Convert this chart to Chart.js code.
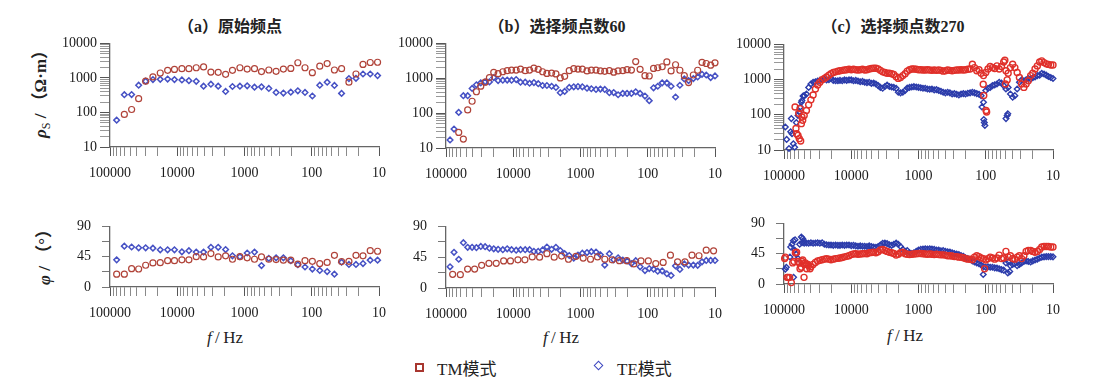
<!DOCTYPE html>
<html><head><meta charset="utf-8">
<script src="https://cdn.jsdelivr.net/npm/chart.js@4.4.1/dist/chart.umd.min.js"></script>
<style>
body{margin:0;background:#fff;width:1093px;height:379px;overflow:hidden;position:relative;font-family:"Liberation Serif","Noto Sans CJK SC",serif;color:#222}
canvas{position:absolute}
.t{position:absolute;white-space:nowrap;transform:translate(-50%,-50%);line-height:1}
.ttl{font-size:16px;font-weight:bold}
.ya{font-size:17px;font-weight:bold;transform:translate(-50%,-50%) rotate(-90deg)}
.xa{font-size:17px}
.lg{position:absolute;font-size:17px;white-space:nowrap;transform:translateY(-50%);line-height:1}
.mk{position:absolute;box-sizing:border-box}
.s{font-family:"Liberation Serif",serif}
.c{font-family:"Noto Sans CJK SC",sans-serif}
</style></head><body>
<div class="t ttl" style="left:230px;top:26px"><span class="c">（</span><span class="s">a</span><span class="c">）原始频点</span></div>
<div class="t ttl" style="left:557px;top:26px"><span class="c">（</span><span class="s">b</span><span class="c">）选择频点数</span><span class="s">60</span></div>
<div class="t ttl" style="left:893px;top:26px"><span class="c">（</span><span class="s">c</span><span class="c">）选择频点数</span><span class="s">270</span></div>
<div class="t ya" style="left:41px;top:90px"><i class="s">ρ</i><sub style="font-size:12px;font-weight:normal" class="s">S</sub><span class="s"> / </span><span class="c">（</span><span class="s">Ω·m</span><span class="c">）</span></div>
<div class="t ya" style="left:43px;top:253px"><i class="s">φ</i><span class="s"> / </span><span class="c">（</span><span class="s">°</span><span class="c">）</span></div>
<div class="t xa s" style="left:225px;top:337px"><i>f</i>&thinsp;/&thinsp;Hz</div>
<div class="t xa s" style="left:561px;top:337px"><i>f</i>&thinsp;/&thinsp;Hz</div>
<div class="t xa s" style="left:905px;top:335px"><i>f</i>&thinsp;/&thinsp;Hz</div>
<div class="mk" style="left:415px;top:363px;width:9px;height:9px;border:2px solid #a8362f"></div>
<div class="lg" style="left:437px;top:368px"><span class="s">TM</span><span class="c">模式</span></div>
<div class="mk" style="left:595px;top:362px;width:7px;height:7px;border:1.5px solid #3c46c0;transform:rotate(45deg)"></div>
<div class="lg" style="left:617px;top:368px"><span class="s">TE</span><span class="c">模式</span></div>

<canvas id="aT"></canvas><canvas id="aB"></canvas>
<canvas id="bT"></canvas><canvas id="bB"></canvas>
<canvas id="cT"></canvas><canvas id="cB"></canvas>
<script>
// ---------- tick labels ----------
const xTickLabels = [100000, 10000, 1000, 100, 10];
const rhoTickLabels = [10, 100, 1000, 10000];
const phiTicks = [0, 22.5, 45, 67.5, 90];
const phiTickLabels = [0, 45, 90];

// ---------- (a) original frequencies ----------
const freqA = [79600, 61200, 47700, 37500, 29500, 23000, 17900, 13900, 11000, 8530, 6710, 5220, 4060, 3160, 2460, 1910, 1510, 1170, 912, 710, 559, 435, 339, 264, 205, 161, 126, 98, 76, 59, 46, 36, 28, 22, 17.3, 13.5, 10.5];
const tmRhoA = [null, 88, 122, 251, 803, 1070, 1390, 1660, 1760, 1860, 1860, 1970, 2080, 1480, 1450, 1270, 1660, 1970, 1800, 1860, 1530, 1700, 1550, 1800, 1890, 2750, 1970, 1420, 2190, 2600, 1700, 1860, 752, 1300, 2460, 2800, 2850];
const teRhoA = [60, 327, 330, 617, 803, 895, 910, 930, 895, 875, 835, 800, 578, 659, 578, 407, 565, 578, 590, 541, 552, 495, 381, 365, 388, 425, 381, 300, 617, 752, 605, 357, 956, 976, 1300, 1300, 1167];
const tmPhiA = [19.1, 19.1, 27.2, 26.7, 32.3, 35.7, 36.1, 39.1, 39.1, 40.3, 40.3, 45, 44.6, 49.7, 44.6, 46.3, 41.2, 45, 43.3, 41.2, 44.6, 41.2, 40.8, 39.9, 39.9, 34, 39.1, 38.2, 34.8, 36.5, 47.1, 37.8, 38.2, 47.1, 46.3, 53.9, 53.1];
const tePhiA = [40.3, 60.7, 59.4, 58.2, 58.2, 57.7, 55.2, 55.2, 55.2, 52.2, 53.9, 51.8, 51.8, 59, 59, 55.6, 46.3, 45, 50.5, 51.8, 31.8, 42.5, 43.3, 43.3, 39.1, 33.1, 29.7, 26.7, 24.6, 22.9, 19.1, 36.9, 33.5, 33.5, 34.8, 39.9, 39.9];

// ---------- (b) 60 selected frequencies ----------
const freqB = [87100, 76000, 64700, 55200, 47600, 40900, 35300, 30400, 26200, 22600, 19500, 16800, 14300, 12300, 10600, 9050, 7800, 6640, 5720, 4930, 4250, 3660, 3160, 2690, 2320, 2000, 1720, 1470, 1260, 1090, 940, 800, 690, 588, 506, 436, 372, 321, 276, 235, 203, 175, 151, 130, 110, 95, 82, 71, 61, 52, 45, 38.6, 33.3, 28.6, 24.7, 21, 18.1, 15.6, 13.5, 11.6, 10];
const tmRhoB = [null, null, 28, 18, 124, 219, 410, 594, 770, 1050, 1480, 1355, 1540, 1650, 1720, 1720, 1840, 1650, 1720, 1960, 1800, 1540, 1380, 1410, 1330, 1020, 1140, 1650, 1880, 1840, 1840, 1620, 1720, 1720, 1620, 1580, 1650, 1500, 1620, 1650, 1760, 1720, 3020, 1800, 1190, 1160, 1920, 2000, 2140, 2950, 1620, 2440, 1700, 1190, 753, 1240, 1700, 2840, 2650, 2380, 2770];
const teRhoB = [17, 35, 105, 316, 316, 510, 650, 738, 787, 787, 1050, 860, 880, 890, 880, 920, 770, 770, 720, 750, 700, 620, 620, 590, 545, 385, 420, 545, 570, 580, 570, 520, 500, 478, 490, 478, 385, 390, 337, 368, 368, 368, 410, 368, 309, 228, 532, 590, 738, 738, 590, 290, 630, 955, 860, 980, 1090, 1300, 1240, 1050, 1165];
const tmPhiB = [20, 19.5, 27.6, 27.6, 33.1, 36.1, 36.1, 39.5, 39.5, 41.2, 41.2, 45.4, 45, 50.1, 45, 46.7, 42, 46.3, 43.7, 42, 45.4, 42, 41.2, 39.9, 39.9, 35.2, 39.5, 39.5, 35.7, 37.4, 48, 38.2, 38.2, 48, 47.1, 55.2, 54.3];
const tePhiB = [31, 52.2, 42, 66.2, 59.4, 59.4, 59, 60.7, 60.3, 58.2, 57.3, 56.5, 56, 57.3, 56, 55.2, 56, 56, 56, 53.5, 53.5, 55.6, 59.9, 56.5, 59.4, 54.8, 50.1, 47.5, 43.7, 48, 50.9, 51.8, 53.1, 52.6, 48.4, 33.5, 50.1, 41.2, 44.1, 40.8, 39.5, 35.7, 39.9, 31, 25.5, 28.4, 27.6, 24.6, 25, 20.8, 18.3, 32.3, 27.2, 35.2, 33.5, 33.5, 33.1, 38.2, 40.3, 40.3, 40.3];

// ---------- (c) 270 selected frequencies (read along the dense band) ----------
const freqC = [100000, 92600, 85800, 79400, 73600, 68100, 63100, 58400, 54100, 50100, 46400, 43000, 39800, 36900, 34100, 31600, 29300, 27100, 25100, 23300, 21500, 20000, 18500, 17100, 15800, 14700, 13600, 12600, 11700, 10800,
  10000, 9260, 8580, 7940, 7360, 6810, 6310, 5840, 5410, 5010, 4640, 4300, 3980, 3690, 3410, 3160, 2930, 2710, 2510, 2330, 2150, 2000, 1850, 1710, 1580, 1470, 1360, 1260, 1170, 1080,
  1000, 926, 858, 794, 736, 681, 631, 584, 541, 501, 464, 430, 398, 369, 341, 316, 293, 271, 251, 233, 215, 200, 185, 171, 158, 147, 136, 126, 117, 108,
  100, 92.6, 85.8, 79.4, 73.6, 68.1, 63.1, 58.4, 54.1, 50.1, 46.4, 43.0, 39.8, 36.9, 34.1, 31.6, 29.3, 27.1, 25.1, 23.3, 21.5, 20.0, 18.5, 17.1, 15.8, 14.7, 13.6, 12.6, 11.7, 10.8, 10];
const tmRhoC = [null, null, null, null, null, null, null, null,
  87, 96, 133, 192, 266, 366, 540, 705, 840, 990,
  1080, 1180, 1340, 1460, 1590, 1660, 1740, 1780, 1830, 1870,
  1910, 1960, 1910, 1960, 1910, 1870, 1910, 1960, 1870, 1910,
  2000, 2070, 2110, 2110, 2020, 1830, 1660, 1590, 1520, 1520,
  1460, 1400, 1200, 1080, 1150, 1300, 1460, 1740, 1910, 2000,
  2000, 1960, 1910, 1910, 1870, 1870, 1910, 1870, 1830, 1870,
  1830, 1870, 1830, 1740, 1780, 1870, 1830, 1780, 1830, 1870,
  1870, 1910, 1870, 1910, 1960, 2000, 2740, 2190, 1780, 1910,
  1520, 1300, 1590, 2000, 2350, 2190, 2070, 2450, 2000, 2350,
  3160, 1780, 1520, 2190, 2740, 2190, 1590, 1150, 750, 600,
  750, 930, 1300, 1520, 2000, 2450, 3160, 3400, 3040, 2800,
  2700, 2600, 2600];
const teRhoC = [null, null, null, null, null, null, null, null,
  255, 350, 390, 600, 750, 840, 870, 910, 950, 980,
  1040, 980, 990, 1080, 950, 930, 930, 950, 930, 980,
  950, 980, 980, 930, 950, 910, 870, 890, 840, 820,
  840, 780, 800, 750, 675, 600, 565, 640, 700, 640,
  615, 600, 565, 436, 420, 436, 490, 580, 600, 615,
  630, 615, 600, 590, 565, 565, 540, 530, 540, 510,
  520, 490, 465, 436, 420, 436, 420, 390, 400, 385,
  366, 390, 400, 390, 410, 420, 436, 420, 400, 385,
  350, 228, 490, 565, 600, 675, 710, 750, 840, 800,
  675, 540, 600, 390, 316, 350, 540, 840, 980, 930,
  990, 1080, 1040, 1130, 1180, 1300, 1340, 1500, 1440, 1340,
  1230, 1150, 1080];
const tmPhiC = [null, null, null, null, null, null, null, null,
  33.4, 30.0, 29.1, 27.0, 25.7, 29.1, 32.1, 34.3, 35.1, 36.0,
  36.9, 37.7, 36.9, 36.0, 36.9, 37.7, 38.1, 38.6, 39.4, 40.3,
  41.1, 42.0, 43.7, 44.6, 45.0, 44.1, 44.6, 45.0, 45.4, 45.0,
  46.3, 46.7, 47.1, 46.3, 48.0, 50.6, 51.4, 49.7, 48.4, 47.1,
  46.3, 45.4, 42.9, 44.1, 46.3, 47.1, 45.0, 44.1, 43.7, 44.1,
  44.6, 45.0, 45.4, 45.4, 45.0, 44.6, 44.1, 44.6, 44.1, 43.7,
  44.1, 43.7, 43.3, 43.3, 42.9, 42.0, 42.0, 41.6, 40.7, 40.7,
  39.9, 39.9, 39.0, 37.7, 36.9, 36.9, 36.0, 39.9, 42.0, 40.7,
  38.6, 37.7, 35.6, 37.7, 39.9, 38.6, 36.9, 38.6, 42.9, 37.7,
  38.6, 48.4, 39.9, 42.0, 37.7, 36.9, 39.9, 42.0, 37.7, 42.0,
  48.4, 49.7, 49.7, 48.4, 47.1, 48.4, 51.4, 54.9, 55.7, 55.7,
  55.7, 54.9, 54.9];
const tePhiC = [null, null, null, null, null, null, null, null,
  61.3, 60.4, 60.9, 60.4, 61.3, 60.4, 60.9, 61.3, 60.4, 61.3,
  59.1, 58.3, 57.9, 57.9, 57.4, 57.9, 57.4, 57.4, 57.9, 57.4,
  57.9, 57.9, 57.0, 57.4, 56.6, 56.1, 56.6, 56.1, 56.1, 55.7,
  56.6, 55.7, 54.9, 54.4, 55.7, 57.9, 60.4, 60.9, 60.0, 58.3,
  57.4, 59.1, 60.9, 59.1, 55.7, 51.4, 48.4, 49.7, 46.3, 45.4,
  46.3, 48.4, 50.6, 51.4, 51.9, 52.3, 51.9, 52.3, 51.9, 51.4,
  50.6, 50.6, 49.3, 49.7, 48.4, 48.0, 47.6, 46.3, 45.4, 44.6,
  43.7, 42.4, 41.1, 39.0, 37.7, 36.4, 34.3, 32.6, 31.3, 30.0,
  28.3, 25.7, 24.9, 25.7, 24.9, 24.9, 24.0, 23.6, 22.7, 21.4,
  20.6, 31.3, 33.4, 27.0, 29.1, 30.0, 27.0, 29.1, 31.3, 33.4,
  34.3, 33.4, 32.6, 34.3, 35.6, 36.9, 38.6, 39.9, 40.3, 40.7,
  40.7, 40.7, 40.3];
// scattered (c) points off the main band: [frequency, value]
const tmRhoCOut = [[68500, 166], [66400, 41], [64900, 29], [61900, 26], [59200, 21], [56500, 18], [55200, 56], [52700, 70], [60500, 110], [57800, 150], [109, 740], [99, 133], [97, 120], [107, 355], [52, 3550], [51, 750], [48, 980]];
const teRhoCOut = [[95500, 45], [91300, 20], [84300, 11], [79600, 33], [76000, 29], [72600, 15], [69400, 12], [77800, 78], [65600, 60], [61900, 96], [59200, 120], [57100, 166], [55200, 228], [52100, 340], [50400, 340], [114, 166], [107, 73], [105, 60], [103, 50], [50, 78], [48, 96], [47, 107]];
const tmPhiCOut = [[97800, 37.7], [95500, 39.9], [90200, 9.9], [87200, 9.9], [82400, 9.9], [77800, 2.1], [74300, 31.3], [71000, 33.4], [67800, 46.3], [64900, 47.1], [61900, 33.4], [59200, 31.3], [57800, 22.7], [55200, 24.9], [52700, 35.6], [50400, 9.9], [48200, 31.3], [46000, 22.7], [44000, 29.1], [41000, 22.7], [104, 22.7]];
const tePhiCOut = [[95500, 21.9], [92300, 24.9], [79600, 54.9], [76000, 59], [72600, 64.3], [69400, 50.6], [68500, 65.6], [65600, 44], [61900, 37.7], [58500, 59], [55200, 69.9], [52700, 67.7], [50400, 63.4], [81500, 40], [72000, 9.9], [109, 14.1], [47, 16.3], [44, 18.4]];

// ---------- helpers ----------
const xTickVals = [];
for (let e = 1; e <= 4; e++) for (let m = 1; m <= 9; m++) xTickVals.push(m * Math.pow(10, e));
xTickVals.push(100000);
const rhoTickVals = [];
for (let e = 1; e <= 3; e++) for (let m = 1; m <= 9; m++) rhoTickVals.push(m * Math.pow(10, e));
rhoTickVals.push(10000);

function pts(fr, vals) {
  const out = [];
  fr.forEach((f, i) => { if (vals[i] !== null && vals[i] !== undefined) out.push({x: f, y: vals[i]}); });
  return out;
}
function pairs(arr) { return arr.map(p => ({x: p[0], y: p[1]})); }

const FONT = {family: 'Liberation Serif', size: 14};
function xScale() {
  return {
    type: 'logarithmic', min: 10, max: 100000, reverse: true,
    afterBuildTicks: s => { s.ticks = xTickVals.map(v => ({value: v})); },
    afterFit: s => { s.height = 32; },
    ticks: {autoSkip: false, maxRotation: 0, minRotation: 0, padding: 9, color: '#1a1a1a', font: FONT,
      callback: v => xTickLabels.includes(v) ? String(v) : ''},
    grid: {drawOnChartArea: false, drawTicks: true, tickLength: 9, lineWidth: 1,
      color: c => (c.tick && xTickLabels.includes(c.tick.value)) ? '#555' : '#8a8a8a'},
    border: {display: true, color: '#666', width: 1.3}
  };
}
function rhoScale() {
  return {
    type: 'logarithmic', min: 10, max: 10000,
    afterBuildTicks: s => { s.ticks = rhoTickVals.map(v => ({value: v})); },
    afterFit: s => { s.width = 60; },
    ticks: {autoSkip: false, padding: 3, color: '#1a1a1a', font: FONT,
      callback: v => rhoTickLabels.includes(v) ? String(v) : ''},
    grid: {drawOnChartArea: false, drawTicks: true, tickLength: 10, lineWidth: 1,
      color: c => (c.tick && rhoTickLabels.includes(c.tick.value)) ? '#555' : '#999'},
    border: {display: true, color: '#666', width: 1.3}
  };
}
function phiScale() {
  return {
    type: 'linear', min: 0, max: 90,
    afterBuildTicks: s => { s.ticks = phiTicks.map(v => ({value: v})); },
    afterFit: s => { s.width = 60; },
    ticks: {autoSkip: false, padding: 11, color: '#1a1a1a', font: FONT,
      callback: v => phiTickLabels.includes(v) ? String(v) : ''},
    grid: {drawOnChartArea: false, drawTicks: true, tickLength: 8, lineWidth: 1, color: '#777'},
    border: {display: true, color: '#666', width: 1.3}
  };
}
function ds(data, kind, dense) {
  const tm = kind === 'TM';
  return {
    data: data, clip: false, showLine: false,
    pointStyle: tm ? 'circle' : 'rectRot',
    pointRadius: tm ? 3 : 2.8,
    pointBorderWidth: dense ? 1.4 : (tm ? 1.2 : 1.5),
    pointBorderColor: tm ? (dense ? '#e0302a' : '#b04238') : (dense ? '#2c3cab' : '#4651c4'),
    pointBackgroundColor: 'rgba(0,0,0,0)',
    pointHoverRadius: 0
  };
}
function panel(id, g, yKind, datasets) {
  const cv = document.getElementById(id);
  const w = g.endX - g.axisX + 80, h = g.bot - g.top + 42;
  cv.width = w; cv.height = h;
  cv.style.left = (g.axisX - 60) + 'px';
  cv.style.top = (g.top - 10) + 'px';
  cv.style.width = w + 'px'; cv.style.height = h + 'px';
  new Chart(cv, {
    type: 'scatter',
    data: {datasets: datasets},
    options: {
      responsive: false, animation: false, devicePixelRatio: 1,
      layout: {padding: {left: 0, top: 10, right: 20, bottom: 0}},
      plugins: {legend: {display: false}, title: {display: false}, tooltip: {enabled: false}},
      scales: {x: xScale(), y: yKind === 'rho' ? rhoScale() : phiScale()}
    }
  });
}

panel('aT', {axisX: 110, endX: 379, top: 42, bot: 147}, 'rho',
  [ds(pts(freqA, tmRhoA), 'TM'), ds(pts(freqA, teRhoA), 'TE')]);
panel('aB', {axisX: 110, endX: 379, top: 217, bot: 287}, 'phi',
  [ds(pts(freqA, tmPhiA), 'TM'), ds(pts(freqA, tePhiA), 'TE')]);
panel('bT', {axisX: 446, endX: 715, top: 42, bot: 148}, 'rho',
  [ds(pts(freqB, tmRhoB), 'TM'), ds(pts(freqB, teRhoB), 'TE')]);
panel('bB', {axisX: 446, endX: 715, top: 217, bot: 288}, 'phi',
  [ds(pts(freqA, tmPhiB), 'TM'), ds(pts(freqB, tePhiB), 'TE')]);
panel('cT', {axisX: 784, endX: 1053, top: 43, bot: 150}, 'rho',
  [ds(pts(freqC, tmRhoC).concat(pairs(tmRhoCOut)), 'TM', true), ds(pts(freqC, teRhoC).concat(pairs(teRhoCOut)), 'TE', true)]);
panel('cB', {axisX: 784, endX: 1053, top: 214, bot: 284}, 'phi',
  [ds(pts(freqC, tmPhiC).concat(pairs(tmPhiCOut)), 'TM', true), ds(pts(freqC, tePhiC).concat(pairs(tePhiCOut)), 'TE', true)]);
</script>
</body></html>
